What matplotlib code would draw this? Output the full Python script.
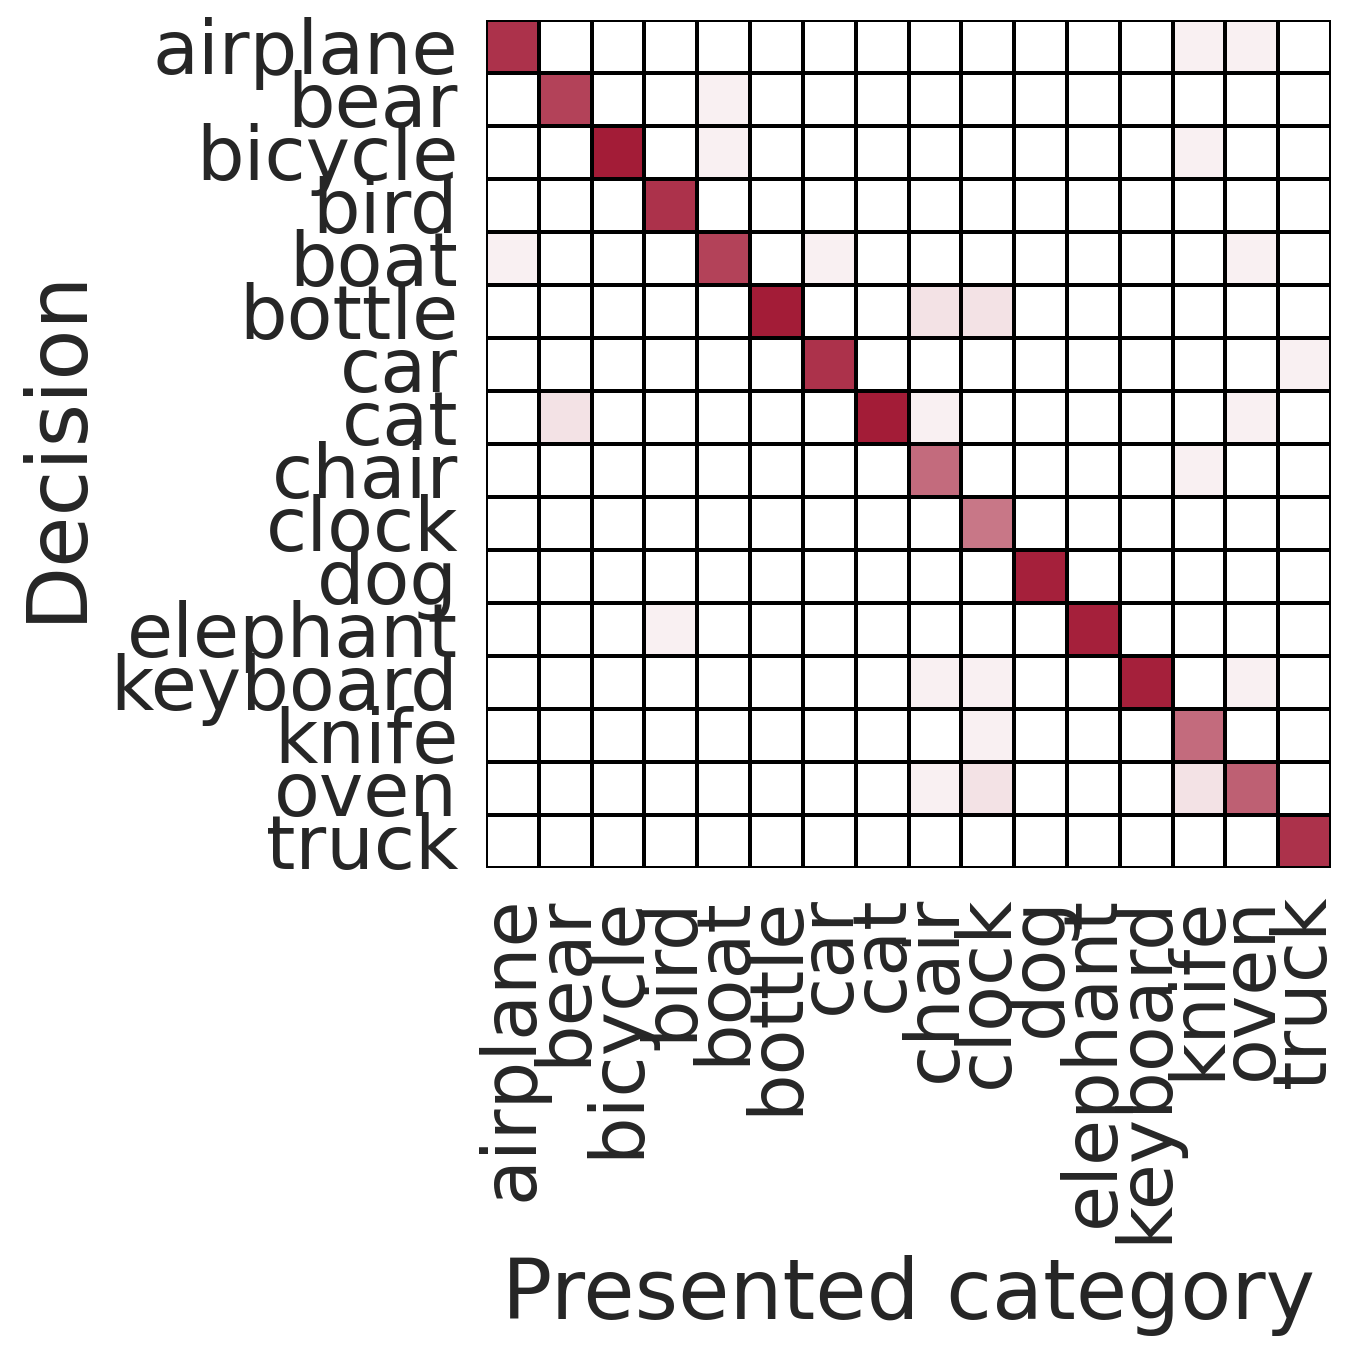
import numpy as np
import matplotlib
matplotlib.use("Agg")
import matplotlib.pyplot as plt
import matplotlib.transforms as mtransforms
import seaborn as sns
from matplotlib.colors import LinearSegmentedColormap

categories = ["airplane", "bear", "bicycle", "bird", "boat", "bottle", "car", "cat",
              "chair", "clock", "dog", "elephant", "keyboard", "knife", "oven", "truck"]

# rows = decision, columns = presented category (fraction of responses)
row_airplane = [0.90, 0, 0, 0, 0, 0, 0, 0, 0, 0, 0, 0, 0, 0.07, 0.07, 0]
row_bear     = [0, 0.83, 0, 0, 0.07, 0, 0, 0, 0, 0, 0, 0, 0, 0, 0, 0]
row_bicycle  = [0, 0, 1.00, 0, 0.07, 0, 0, 0, 0, 0, 0, 0, 0, 0.07, 0, 0]
row_bird     = [0, 0, 0, 0.90, 0, 0, 0, 0, 0, 0, 0, 0, 0, 0, 0, 0]
row_boat     = [0.07, 0, 0, 0, 0.83, 0, 0.07, 0, 0, 0, 0, 0, 0, 0, 0.07, 0]
row_bottle   = [0, 0, 0, 0, 0, 1.00, 0, 0, 0.13, 0.13, 0, 0, 0, 0, 0, 0]
row_car      = [0, 0, 0, 0, 0, 0, 0.90, 0, 0, 0, 0, 0, 0, 0, 0, 0.07]
row_cat      = [0, 0.13, 0, 0, 0, 0, 0, 1.00, 0.07, 0, 0, 0, 0, 0, 0.07, 0]
row_chair    = [0, 0, 0, 0, 0, 0, 0, 0, 0.65, 0, 0, 0, 0, 0.07, 0, 0]
row_clock    = [0, 0, 0, 0, 0, 0, 0, 0, 0, 0.60, 0, 0, 0, 0, 0, 0]
row_dog      = [0, 0, 0, 0, 0, 0, 0, 0, 0, 0, 0.98, 0, 0, 0, 0, 0]
row_elephant = [0, 0, 0, 0.07, 0, 0, 0, 0, 0, 0, 0, 0.98, 0, 0, 0, 0]
row_keyboard = [0, 0, 0, 0, 0, 0, 0, 0, 0.07, 0.07, 0, 0, 0.98, 0, 0.07, 0]
row_knife    = [0, 0, 0, 0, 0, 0, 0, 0, 0, 0.07, 0, 0, 0, 0.65, 0, 0]
row_oven     = [0, 0, 0, 0, 0, 0, 0, 0, 0.07, 0.13, 0, 0, 0, 0.13, 0.70, 0]
row_truck    = [0, 0, 0, 0, 0, 0, 0, 0, 0, 0, 0, 0, 0, 0, 0, 0.90]

matrix = np.array([row_airplane, row_bear, row_bicycle, row_bird, row_boat, row_bottle,
                   row_car, row_cat, row_chair, row_clock, row_dog, row_elephant,
                   row_keyboard, row_knife, row_oven, row_truck])

sns.set_style("white")
plt.rcParams['font.family'] = ['DejaVu Sans']
text_color = "#262626"

cmap = LinearSegmentedColormap.from_list("wr", ["#FFFFFF", "#A31C37"])

fig = plt.figure(figsize=(13.61, 13.53), dpi=100)
ax = fig.add_axes([486/1361, 1 - 868/1353, 845/1361, 848/1353])
sns.heatmap(matrix, ax=ax, cmap=cmap, vmin=0, vmax=1, cbar=False,
            linewidths=2.8, linecolor="black",
            xticklabels=categories, yticklabels=categories)

ax.tick_params(axis='both', length=0, labelsize=54, colors=text_color)
ax.tick_params(axis='y', pad=20)
ax.tick_params(axis='x', pad=20)
plt.setp(ax.get_xticklabels(), rotation=90)
plt.setp(ax.get_yticklabels(), rotation=0)
shift = mtransforms.ScaledTranslation(0, -7/100, fig.dpi_scale_trans)
for lbl in ax.get_yticklabels():
    lbl.set_transform(lbl.get_transform() + shift)
ax.set_xlabel("Presented category", fontsize=60, color=text_color, labelpad=8)
ax.set_ylabel("Decision", fontsize=60, color=text_color, labelpad=10)

fig.savefig("out.png", dpi=100)
